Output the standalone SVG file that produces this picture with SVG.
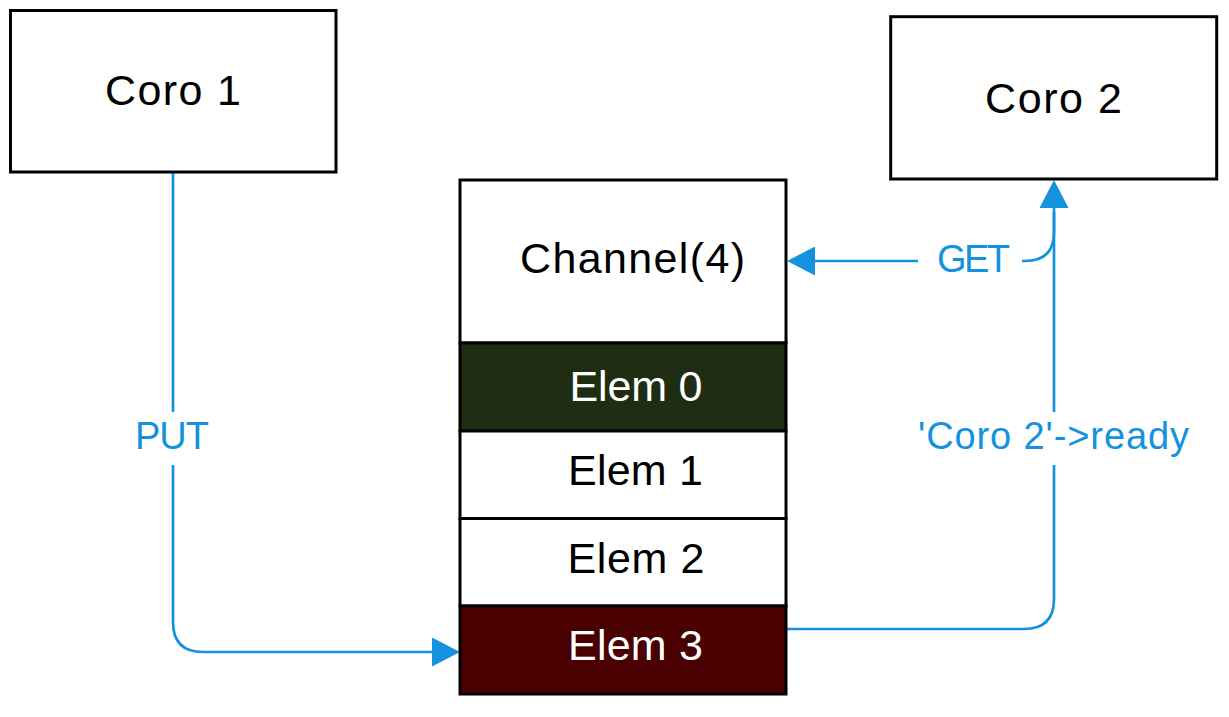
<svg xmlns="http://www.w3.org/2000/svg" width="1229" height="717" viewBox="0 0 1229 717">
<style>
.box{fill:#ffffff;stroke:#000000;stroke-width:3}
.t{font-family:"Liberation Sans",Arial,sans-serif;font-size:43px;fill:#000000;text-anchor:middle}
.w{fill:#ffffff}
.edge{fill:none;stroke:#1592de;stroke-width:2.7}
.lbl{font-family:"Liberation Sans",Arial,sans-serif;font-size:38px;fill:#1592de;text-anchor:middle}
.bg{fill:#ffffff}
</style>
<defs>
<marker id="arr" viewBox="0 0 28 29" refX="0" refY="14.5" markerWidth="28" markerHeight="29" markerUnits="userSpaceOnUse" orient="auto">
<path d="M0 0 L28 14.5 L0 29 Z" fill="#1592de"/>
</marker>
</defs>
<rect width="1229" height="717" fill="#ffffff"/>
<g id="connectors">
<path class="edge" d="M173 173 L173 622 Q173 652 203 652 L432 652" marker-end="url(#arr)"/>
<path class="edge" d="M787 629 L1024 629 Q1054 629 1054 599 L1054 208" marker-end="url(#arr)"/>
<path class="edge" d="M1054 212 L1054 232 Q1054 261 1025 261 L815 261" marker-end="url(#arr)"/>
<g id="label-put">
<rect class="bg" x="128" y="412" width="90" height="53"/>
<text class="lbl" x="172" y="449" textLength="74" lengthAdjust="spacing">PUT</text>
</g>
<g id="label-get">
<rect class="bg" x="918" y="238" width="104" height="48"/>
<text class="lbl" x="973.5" y="272" textLength="73" lengthAdjust="spacing">GET</text>
</g>
<g id="label-ready">
<rect class="bg" x="914" y="412" width="280" height="53"/>
<text class="lbl" x="1053.5" y="449" textLength="271" lengthAdjust="spacing">'Coro 2'-&gt;ready</text>
</g>
</g>
<g id="coro1">
<rect class="box" x="10.5" y="10.5" width="325.5" height="161.5"/>
<text class="t" x="173" y="105" textLength="136" lengthAdjust="spacing">Coro 1</text>
</g>
<g id="coro2">
<rect class="box" x="890.7" y="16.7" width="326" height="162.3"/>
<text class="t" x="1053.5" y="113" textLength="137" lengthAdjust="spacing">Coro 2</text>
</g>
<g id="channel">
<rect class="box" x="460" y="180" width="326" height="163"/>
<text class="t" x="632.5" y="273" textLength="225" lengthAdjust="spacing">Channel(4)</text>
</g>
<g id="elem0">
<rect class="box" x="460" y="343" width="326" height="88" style="fill:#1f2e12"/>
<text class="t w" x="636" y="401" textLength="133" lengthAdjust="spacing">Elem 0</text>
</g>
<g id="elem1">
<rect class="box" x="460" y="431" width="326" height="87.5"/>
<text class="t" x="635.5" y="485" textLength="135" lengthAdjust="spacing">Elem 1</text>
</g>
<g id="elem2">
<rect class="box" x="460" y="518.5" width="326" height="87.5"/>
<text class="t" x="636" y="573" textLength="137" lengthAdjust="spacing">Elem 2</text>
</g>
<g id="elem3">
<rect class="box" x="460" y="606" width="326" height="88" style="fill:#4a0000"/>
<text class="t w" x="635.5" y="660" textLength="135" lengthAdjust="spacing">Elem 3</text>
</g>
</svg>
